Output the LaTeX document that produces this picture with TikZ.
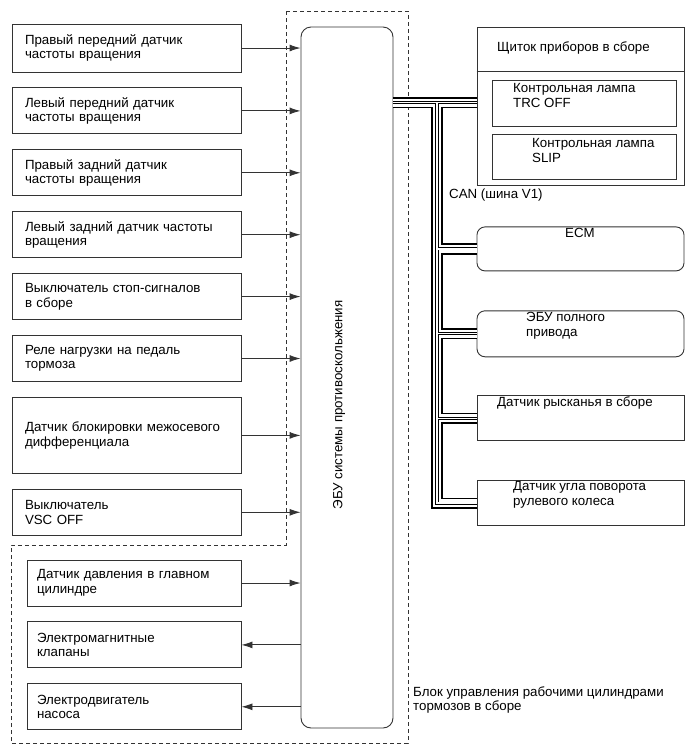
\documentclass[tikz,border=0pt]{standalone}
\usepackage{fontspec}
\setmainfont{Liberation Sans}
\usetikzlibrary{positioning}
\usetikzlibrary{arrows.meta}
\tikzset{>={Latex[length=11pt,width=7pt]}}
\tikzset{lbl/.style={font=\fontsize{13.3}{14.5}\selectfont, inner sep=0pt, align=left}}
\tikzset{inbox/.style={draw=black!80, line width=0.9pt, lbl, minimum height=46pt, text width=203pt, inner xsep=13pt}}
\tikzset{unitbox/.style={inbox, text width=194pt, inner xsep=10pt}}
\tikzset{rbox/.style={draw=black!80, line width=0.9pt, minimum width=207pt, minimum height=45pt, inner sep=0pt}}
\tikzset{lamp/.style={rbox, minimum width=184pt}}
\tikzset{busouter/.style={draw=black, double=white, double distance=8pt, line width=1.6pt}}
\tikzset{businner/.style={draw=black, double=white, double distance=1.3pt, line width=0.9pt}}

\begin{document}
\begin{tikzpicture}[x=1pt,y=-1pt]
\useasboundingbox (0,0) rectangle (690,756);

% brake actuator outline
\draw[black!80, line width=0.8pt, dash pattern=on 4pt off 3pt]
  (286,11) -- (408,11) -- (408,743) -- (11,743) -- (11,545) -- (286,545) -- cycle;

\node[draw=black!80, line width=0.9pt, rounded corners=10pt, minimum width=92pt, minimum height=701pt] (ecu) at (347,377.5) {};
\node[lbl, rotate=90] (ecutxt) at (339,405) {ЭБУ системы противоскольжения};

% inputs
\node[inbox, minimum height=48pt] (rf) at (126.5,48) {Правый передний датчик\\частоты вращения};
\node[inbox, below=15pt of rf] (lf) {Левый передний датчик\\частоты вращения};
\node[inbox, below=15pt of lf] (rr) {Правый задний датчик\\частоты вращения};
\node[inbox, below=15pt of rr] (lr) {Левый задний датчик частоты\\вращения};
\node[inbox, below=15pt of lr] (stop) {Выключатель стоп-сигналов\\в сборе};
\node[inbox, below=15pt of stop] (relay) {Реле нагрузки на педаль\\тормоза};
\node[inbox, below=15pt of relay, minimum height=76pt] (diff) {Датчик блокировки межосевого\\дифференциала};
\node[inbox, below=15pt of diff] (vsc) {Выключатель\\VSC OFF};

\node[unitbox] (mc) at (134,583) {Датчик давления в главном\\цилиндре};
\node[unitbox, below=15pt of mc] (valve) {Электромагнитные\\клапаны};
\node[unitbox, below=15pt of valve] (pump) {Электродвигатель\\насоса};

\draw[->, black!80, line width=0.9pt] (rf.east) -- (rf.east -| ecu.west);
\draw[->, black!80, line width=0.9pt] (lf.east) -- (lf.east -| ecu.west);
\draw[->, black!80, line width=0.9pt] (rr.east) -- (rr.east -| ecu.west);
\draw[->, black!80, line width=0.9pt] (lr.east) -- (lr.east -| ecu.west);
\draw[->, black!80, line width=0.9pt] (stop.east) -- (stop.east -| ecu.west);
\draw[->, black!80, line width=0.9pt] (relay.east) -- (relay.east -| ecu.west);
\draw[->, black!80, line width=0.9pt] (diff.east) -- (diff.east -| ecu.west);
\draw[->, black!80, line width=0.9pt] (vsc.east) -- (vsc.east -| ecu.west);
\draw[->, black!80, line width=0.9pt] (mc.east) -- (mc.east -| ecu.west);
\draw[<-, black!80, line width=0.9pt] (valve.east) -- (valve.east -| ecu.west);
\draw[<-, black!80, line width=0.9pt] (pump.east) -- (pump.east -| ecu.west);

% CAN side
\node[rbox, minimum height=158pt] (panel) at (580.5,106) {};
\draw[black!80, line width=0.9pt] (panel.west |- 0,71) -- (panel.east |- 0,71);
\node[lbl, anchor=north west] (paneltxt) at (497,41.5) {Щиток приборов в сборе};
\node[lamp, minimum height=46pt] (trc) at (584,103) {};
\node[lbl, anchor=north west] (trctxt) at (513,83.5) {Контрольная лампа\\TRC OFF};
\node[lamp] (slip) at (584,156.5) {};
\node[lbl, anchor=north west] (sliptxt) at (532,138.5) {Контрольная лампа\\SLIP};

\node[rbox, rounded corners=8pt, minimum height=44pt, below=41pt of panel] (ecm) {};
\node[lbl, anchor=north] (ecmtxt) at (580,228.5) {ECM};
\node[rbox, rounded corners=8pt, minimum height=46pt, below=39pt of ecm] (awd) {};
\node[lbl, anchor=north west] (awdtxt) at (526,312.5) {ЭБУ полного\\привода};
\node[rbox, below=38pt of awd] (yaw) {};
\node[lbl, anchor=north west] (yawtxt) at (497,396.5) {Датчик рысканья в сборе};
\node[rbox, below=39pt of yaw] (steer) {};
\node[lbl, anchor=north west] (steertxt) at (513,481.5) {Датчик угла поворота\\рулевого колеса};

\coordinate (bt) at (437,102.5);
\foreach \s in {busouter,businner}
  \draw[\s] (ecu.east |- bt) -- (panel.west |- bt)
    (bt) |- (steer.west)
    (bt |- ecm.west) -- (ecm.west)
    (bt |- awd.west) -- (awd.west)
    (bt |- yaw.west) -- (yaw.west);

\node[lbl, anchor=north west] (cantxt) at (449,188.5) {CAN (шина V1)};
\node[lbl, anchor=north west] (unittxt) at (413,686.5) {Блок управления рабочими цилиндрами\\тормозов в сборе};
\end{tikzpicture}
\end{document}
